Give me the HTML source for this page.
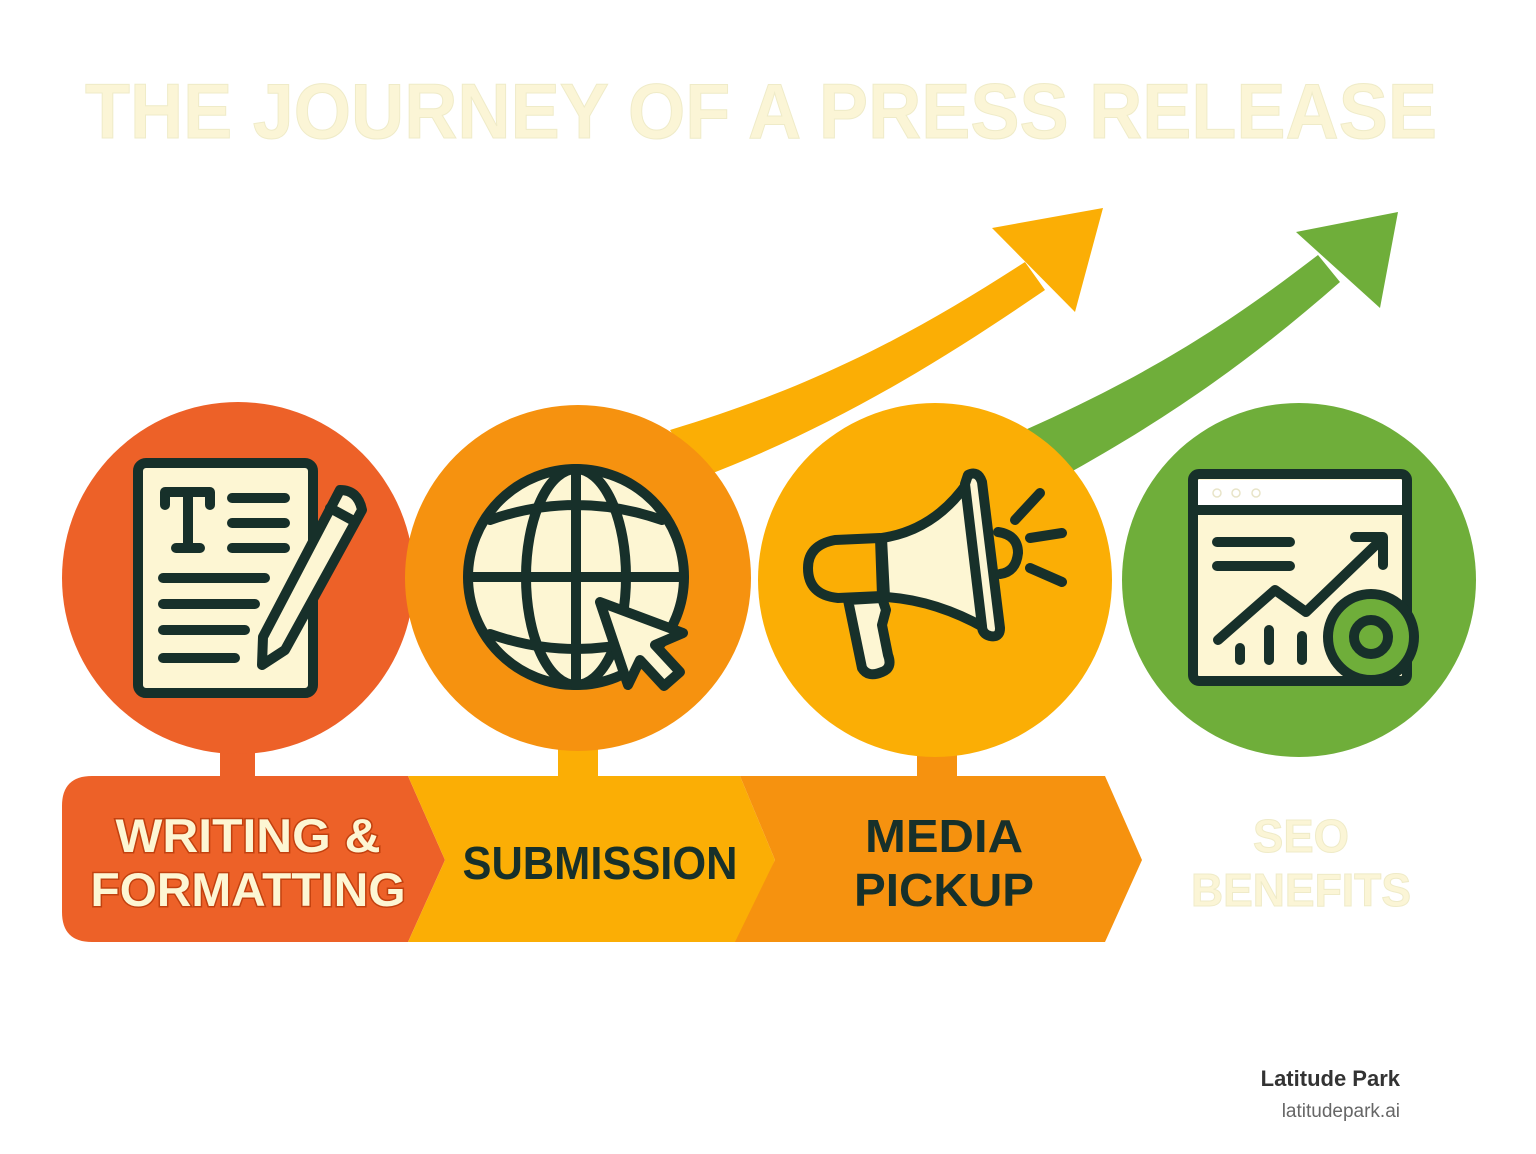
<!DOCTYPE html>
<html><head><meta charset="utf-8"><style>
html,body{margin:0;padding:0;background:#fff}
svg{display:block}
text{font-family:"Liberation Sans",sans-serif;font-weight:bold}
</style></head><body>
<svg width="1536" height="1154" viewBox="0 0 1536 1154" xmlns="http://www.w3.org/2000/svg">
<rect width="1536" height="1154" fill="#fff"/>
<text x="761" y="138" text-anchor="middle" font-size="78" fill="#FBF5D6" stroke="#EFEBC8" stroke-width="1" textLength="1352" lengthAdjust="spacingAndGlyphs">THE JOURNEY OF A PRESS RELEASE</text>

<!-- arrows -->
<path d="M670,430 C820,385 920,330 1025,262 L1045,290 C950,355 840,425 700,478 Z" fill="#FBAE05"/>
<polygon points="992,228 1103,208 1075,312" fill="#FBAE05"/>
<path d="M1025,430 C1160,370 1240,315 1318,255 L1340,282 C1260,352 1180,412 1060,478 Z" fill="#6FAE3A"/>
<polygon points="1296,232 1398,212 1380,308" fill="#6FAE3A"/>

<!-- stems -->
<rect x="220" y="740" width="35" height="45" fill="#ED6128"/>
<rect x="558" y="740" width="40" height="45" fill="#FBAE05"/>
<rect x="917" y="740" width="40" height="45" fill="#F6920F"/>

<!-- circles -->
<circle cx="238" cy="578" r="176" fill="#ED6128"/>
<circle cx="578" cy="578" r="173" fill="#F6920F"/>
<circle cx="935" cy="580" r="177" fill="#FBAE05"/>
<circle cx="1299" cy="580" r="177" fill="#6FAE3A"/>

<!-- banner -->
<path d="M92,776 L408,776 L445,860 L408,942 L92,942 Q62,942 62,912 L62,806 Q62,776 92,776 Z" fill="#ED6128"/>
<polygon points="408,776 740,776 775,860 740,942 408,942 445,860" fill="#FBAE05"/>
<polygon points="740,776 1105,776 1142,860 1105,942 735,942 775,860" fill="#F6920F"/>

<g stroke="#C2410F" stroke-width="3" fill="#FDF6D3" font-size="47" text-anchor="middle" style="paint-order:stroke">
<text x="248" y="852" textLength="265" lengthAdjust="spacingAndGlyphs">WRITING &amp;</text>
<text x="248" y="906" textLength="315" lengthAdjust="spacingAndGlyphs">FORMATTING</text>
</g>
<g fill="#17302A" font-size="46" text-anchor="middle">
<text x="600" y="879" textLength="275" lengthAdjust="spacingAndGlyphs">SUBMISSION</text>
<text x="944" y="852" textLength="158" lengthAdjust="spacingAndGlyphs">MEDIA</text>
<text x="944" y="906" textLength="180" lengthAdjust="spacingAndGlyphs">PICKUP</text>
</g>
<g fill="#FBF5D6" stroke="#EFEBC8" stroke-width="1" font-size="46" text-anchor="middle">
<text x="1301" y="852" textLength="96" lengthAdjust="spacingAndGlyphs">SEO</text>
<text x="1301" y="906" textLength="220" lengthAdjust="spacingAndGlyphs">BENEFITS</text>
</g>

<!-- icon 1: document -->
<g stroke="#17302A" stroke-width="10" stroke-linecap="round" stroke-linejoin="round" fill="none">
<rect x="138" y="463" width="175" height="230" rx="8" fill="#FDF6D3"/>
<path d="M165,505 V492 H210 V505 M188,493 V548 M176,548 H200" />
<path d="M232,498 H285 M232,523 H285 M232,548 H285 M163,578 H265 M163,604 H255 M163,630 H245 M163,658 H235"/>
<path d="M340,490 Q358,490 362,510 L285,650 L262,665 L263,637 Z" fill="#FDF6D3"/>
<path d="M330,508 L352,520"/>
</g>

<!-- icon 2: globe -->
<g stroke="#17302A" stroke-width="10" fill="none" stroke-linecap="round">
<circle cx="576" cy="577" r="108" fill="#FDF6D3"/>
<ellipse cx="576" cy="577" rx="50" ry="108"/>
<path d="M576,469 V685 M468,577 H684 M490,520 Q576,490 662,520 M490,634 Q576,664 662,634"/>
<path d="M600,602 L683,633 L655,645 L680,672 L664,686 L640,660 L628,685 Z" fill="#FDF6D3" stroke-linejoin="round"/>
</g>

<!-- icon 3: megaphone -->
<g stroke="#17302A" stroke-width="10" fill="none" stroke-linecap="round" stroke-linejoin="round">
<path d="M880,538 L835,540 Q808,545 808,568 Q808,595 838,598 L882,596 Z"/>
<path d="M848,600 L862,668 Q868,678 882,672 Q893,668 888,655 L882,625 L886,610 L882,598 Z" fill="#FDF6D3"/>
<path d="M882,538 Q935,530 968,482 L985,628 Q935,600 885,597 Z" fill="#FDF6D3"/>
<path d="M968,475 Q978,470 982,482 L1000,628 Q1000,638 990,636 Q982,634 982,626 L965,484 Z" fill="#FDF6D3"/>
<path d="M998,532 Q1018,535 1018,553 Q1016,572 1000,574"/>
<path d="M1015,520 L1040,493 M1030,538 L1062,533 M1030,568 L1062,582"/>
</g>

<!-- icon 4: browser chart -->
<g stroke="#17302A" stroke-width="10" fill="none" stroke-linecap="round" stroke-linejoin="round">
<rect x="1193" y="474" width="214" height="207" rx="6" fill="#FDF6D3"/>
<rect x="1198" y="480" width="204" height="27" fill="#fff" stroke="none"/>
<path d="M1193,510 H1407"/>
<path d="M1217,542 H1290 M1217,566 H1290"/>
<path d="M1218,640 L1275,590 L1306,612 L1383,538 M1355,537 H1383 V565"/>
<path d="M1240,648 V660 M1269,630 V660 M1302,636 V660"/>
<circle cx="1371" cy="637" r="43" fill="#6FAE3A"/>
<circle cx="1371" cy="637" r="17"/>
</g>
<g fill="none" stroke="#E8E4C8" stroke-width="1.5"><circle cx="1217" cy="493" r="4"/><circle cx="1236" cy="493" r="4"/><circle cx="1256" cy="493" r="4"/></g>

<text x="1400" y="1086" text-anchor="end" font-size="22" fill="#333">Latitude Park</text>
<text x="1400" y="1117" text-anchor="end" font-size="19" style="font-weight:normal" fill="#666">latitudepark.ai</text>
</svg>
</body></html>
